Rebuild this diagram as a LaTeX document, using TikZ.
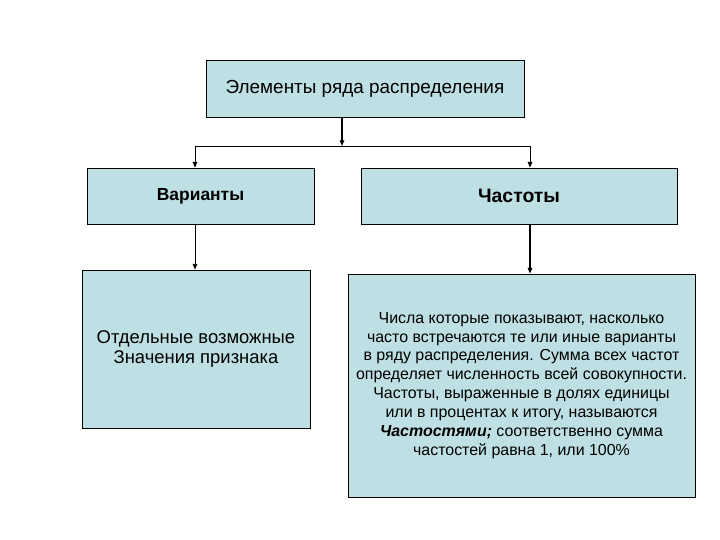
\documentclass[tikz,border=0pt]{standalone}
\usepackage{fontspec}
\setmainfont{Liberation Sans}
\usetikzlibrary{positioning,arrows.meta}
\definecolor{boxfill}{RGB}{190,223,227}

\begin{document}
\begin{tikzpicture}[x=1bp,y=-1bp,>={Triangle[length=2mm,width=1.6mm]},
  box/.style={draw=black,line width=0.8pt,fill=boxfill,inner sep=0pt,align=center}]
\useasboundingbox (0,0) rectangle (720,540);
\node[box,minimum width=318bp,minimum height=57bp,font=\fontsize{19}{21}\selectfont] (top) at (365,88.5) {Элементы ряда распределения};
\node[box,minimum width=227bp,minimum height=56bp,font=\fontsize{17.5}{20}\selectfont\bfseries] (var) at (200.5,196) {Варианты};
\node[box,minimum width=316bp,minimum height=56bp,font=\fontsize{19.5}{22}\selectfont\bfseries] (freq) at (519,196) {Частоты};
\node[box,minimum width=228bp,minimum height=158bp,font=\fontsize{18.5}{19.5}\selectfont] (sign) at (196,349) {Отдельные возможные\\Значения признака};
\node[box,minimum width=347bp,minimum height=223bp,font=\fontsize{16}{19}\selectfont] (def) at (521.5,385.5) {%
  Числа которые показывают, насколько\\
  часто встречаются те или иные варианты\\
  в ряду распределения. Сумма всех частот\\
  определяет численность всей совокупности.\\
  Частоты, выраженные в долях единицы\\
  или в процентах к итогу, называются\\
  \textbf{\textit{Частостями;}} соответственно сумма\\
  частостей равна 1, или 100\%};
% bus
\coordinate (busM) at (342,146);
\coordinate (busL) at (195,146);
\coordinate (busR) at (530,146);
\draw[->,line width=1.2pt] (top.south -| busM) -- (busM);
\draw[line width=1pt] (busL) -- (busR);
\draw[->,line width=1pt] (busL) -- (busL |- var.north);
\draw[->,line width=1pt] (busR) -- (busR |- freq.north);
\draw[->,line width=0.8pt] (busL |- var.south) -- (busL |- sign.north);
\draw[->,line width=1.2pt] (busR |- freq.south) -- (busR |- def.north);
\end{tikzpicture}
\end{document}
